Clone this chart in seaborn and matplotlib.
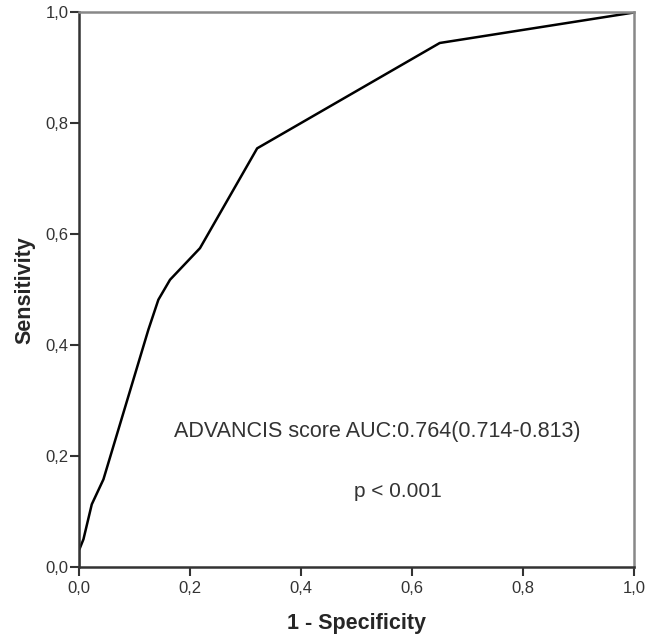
import matplotlib
matplotlib.use("Agg")
import matplotlib.pyplot as plt
import seaborn as sns
import pandas as pd

fpr = [0.0, 0.0, 0.004, 0.008, 0.023, 0.044, 0.125, 0.143, 0.164, 0.218, 0.321, 0.650, 1.0]
tpr = [0.0, 0.030, 0.040, 0.050, 0.113, 0.158, 0.428, 0.482, 0.518, 0.575, 0.755, 0.945, 1.0]
ticks = [0.0, 0.2, 0.4, 0.6, 0.8, 1.0]
tick_labels = ["0,0", "0,2", "0,4", "0,6", "0,8", "1,0"]
auc_text = "ADVANCIS score AUC:0.764(0.714-0.813)"
p_text = "p < 0.001"

sns.set_style("ticks")
plt.rcParams['font.family'] = ['Liberation Sans', 'DejaVu Sans']

fig = plt.figure(figsize=(6.46, 6.37), dpi=100)
ax = fig.add_axes([0.1223, 0.1099, 0.8591, 0.8705])

df = pd.DataFrame({"fpr": fpr, "tpr": tpr})
sns.lineplot(data=df, x="fpr", y="tpr", sort=False, estimator=None,
             color="black", linewidth=1.8, ax=ax)

ax.set_xlim(0, 1)
ax.set_ylim(0, 1)
ax.set_xticks(ticks)
ax.set_xticklabels(tick_labels)
ax.set_yticks(ticks)
ax.set_yticklabels(tick_labels)
ax.tick_params(axis='both', labelsize=12, length=6.5, width=1.5,
               color="#333333", labelcolor="#333333")
ax.tick_params(axis='x', pad=3.5)
ax.tick_params(axis='y', pad=1)

for side in ["left", "bottom"]:
    ax.spines[side].set_color("#333333")
    ax.spines[side].set_linewidth(1.8)
for side in ["top", "right"]:
    ax.spines[side].set_visible(True)
    ax.spines[side].set_color("#888888")
    ax.spines[side].set_linewidth(1.8)

ax.set_xlabel("1 - Specificity", fontsize=15.5, fontweight="bold", labelpad=12)
ax.set_ylabel("Sensitivity", fontsize=15.5, fontweight="bold", labelpad=7)

ax.text(0.537, 0.245, auc_text, ha="center", va="center", fontsize=15.5, color="#333333")
ax.text(0.575, 0.137, p_text, ha="center", va="center", fontsize=15, color="#333333")

fig.savefig("out.png", dpi=100)
